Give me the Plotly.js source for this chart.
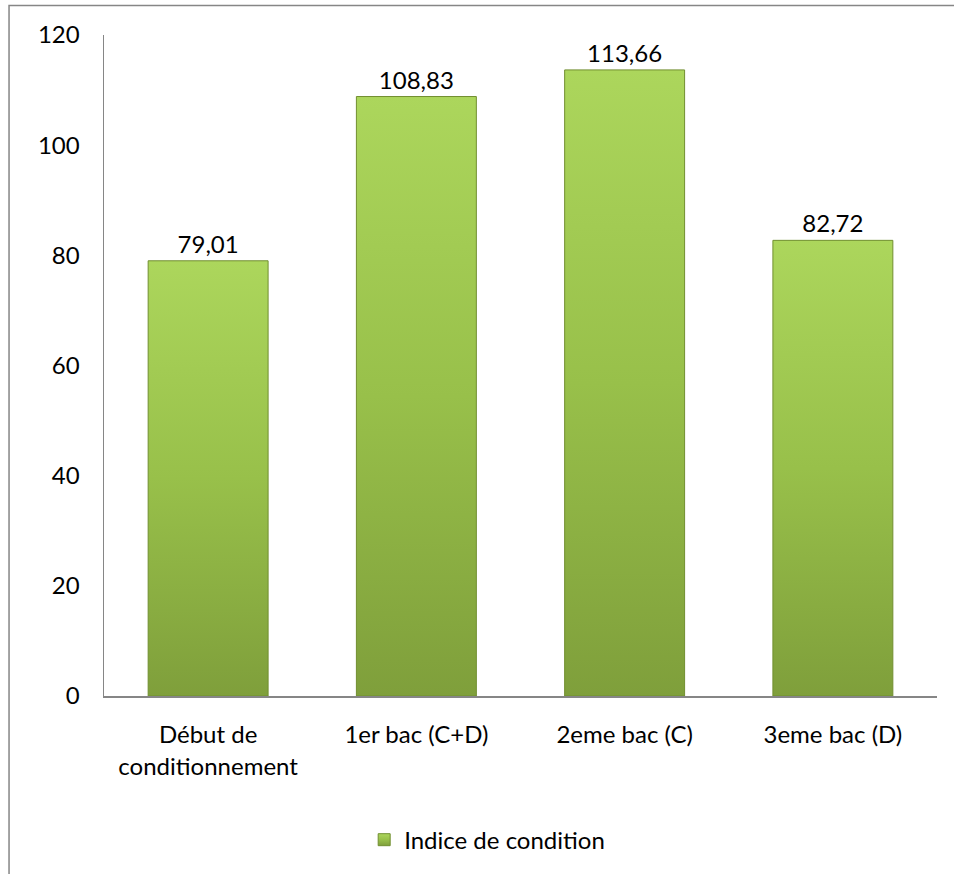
<!DOCTYPE html>
<html>
<head>
<meta charset="utf-8">
<script src="https://cdn.plot.ly/plotly-3.0.1.min.js"></script>
<style>
  html, body { margin: 0; padding: 0; background: #ffffff; }
  #chart { width: 954px; height: 874px; }
</style>
</head>
<body>
<div id="chart"></div>
<script>
// Condition index at each stage of the conditioning process
const categories = [
  "Début de<br>conditionnement",
  "1er bac (C+D)",
  "2eme bac (C)",
  "3eme bac (D)"
];
const indiceValues = [79.01, 108.83, 113.66, 82.72];
const valueLabels = ["79,01", "108,83", "113,66", "82,72"];
const seriesName = "Indice de condition";
const yTicks = [0, 20, 40, 60, 80, 100, 120];

const FONT = "Lato, 'Open Sans', sans-serif";
const FONT_SIZE = 24;
const AXIS_GREY = "#868686";

const trace = {
  type: "bar",
  x: categories,
  y: indiceValues,
  name: seriesName,
  text: valueLabels,
  textposition: "outside",
  textfont: { family: FONT, size: FONT_SIZE, color: "#000000" },
  cliponaxis: false,
  width: 0.576,
  marker: {
    color: "#95bd47",
    line: { color: "#718f30", width: 1 }
  },
  hoverinfo: "skip",
  showlegend: true
};

const layout = {
  width: 954,
  height: 874,
  margin: { l: 104, r: 17, t: 35, b: 178 },
  paper_bgcolor: "#ffffff",
  plot_bgcolor: "#ffffff",
  font: { family: FONT, size: FONT_SIZE, color: "#000000" },
  showlegend: true,
  bargap: 0.424,
  xaxis: {
    type: "category",
    showline: true,
    linecolor: AXIS_GREY,
    linewidth: 1.5,
    ticks: "",
    showgrid: false,
    zeroline: false,
    tickfont: { family: FONT, size: FONT_SIZE, color: "#000000" },
    ticklabelstandoff: 17
  },
  yaxis: {
    range: [0, 120],
    tickvals: yTicks,
    ticktext: yTicks.map(String),
    showline: true,
    linecolor: AXIS_GREY,
    linewidth: 1.5,
    ticks: "",
    showgrid: false,
    zeroline: false,
    tickfont: { family: FONT, size: FONT_SIZE, color: "#000000" },
    ticklabelstandoff: 18
  },
  legend: {
    orientation: "h",
    x: 0.46,
    xanchor: "center",
    y: -0.218,
    yanchor: "middle",
    font: { family: FONT, size: FONT_SIZE, color: "#000000" },
    itemwidth: 30,
    bgcolor: "rgba(0,0,0,0)"
  },
  shapes: [
    {
      // outer chart frame, running past the right and bottom edges
      type: "rect",
      xref: "paper", yref: "paper",
      x0: -0.114, x1: 1.2,
      y0: -0.5, y1: 1.0445,
      line: { color: AXIS_GREY, width: 1.5 },
      fillcolor: "rgba(0,0,0,0)",
      layer: "below"
    }
  ]
};

Plotly.newPlot("chart", [trace], layout, { staticPlot: true, displayModeBar: false }).then(function (gd) {
  // vertical light-to-dark shading on the bars and the legend swatch
  const svg = gd.querySelector(".main-svg");
  const ns = "http://www.w3.org/2000/svg";
  let defs = svg.querySelector("defs");
  if (!defs) { defs = document.createElementNS(ns, "defs"); svg.insertBefore(defs, svg.firstChild); }
  const grad = document.createElementNS(ns, "linearGradient");
  grad.setAttribute("id", "barShade");
  grad.setAttribute("x1", "0"); grad.setAttribute("y1", "0");
  grad.setAttribute("x2", "0"); grad.setAttribute("y2", "1");
  [["0", "#acd65c"], ["0.5", "#98c04a"], ["1", "#7f9f3b"]].forEach(function (s) {
    const stop = document.createElementNS(ns, "stop");
    stop.setAttribute("offset", s[0]);
    stop.setAttribute("stop-color", s[1]);
    grad.appendChild(stop);
  });
  defs.appendChild(grad);
  gd.querySelectorAll(".bars .point path, .legendpoints path").forEach(function (p) {
    p.style.fill = "url(#barShade)";
  });
});
</script>
</body>
</html>
